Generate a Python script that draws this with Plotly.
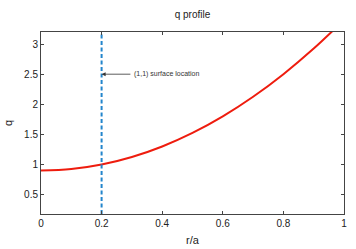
import plotly.graph_objects as go

r_vals = [0.0, 0.1, 0.2, 0.3, 0.4, 0.5, 0.6, 0.7, 0.8, 0.9, 1.0]
q_vals = [0.9, 0.925, 1.0, 1.125, 1.3, 1.525, 1.8, 2.125, 2.5, 2.925, 3.4]
surf_r = 0.2
surf_q_range = [0.18, 3.2]
x_ticks = [0, 0.2, 0.4, 0.6, 0.8, 1]
y_ticks = [0.5, 1, 1.5, 2, 2.5, 3]
title = "q profile"
xlabel = "r/a"
ylabel = "q"
annot_text = "(1,1) surface location"
annot_y = 2.5

fig = go.Figure()
fig.add_trace(go.Scatter(x=r_vals, y=q_vals, mode="lines", line=dict(color="#ee1c0e", width=2, shape="spline"), showlegend=False))
fig.add_trace(go.Scatter(x=[surf_r, surf_r], y=surf_q_range, mode="lines", line=dict(color="#2385cc", width=2, dash="4px,2.5px"), showlegend=False))

fig.add_annotation(x=surf_r, y=annot_y, ax=0.3, ay=annot_y, axref="x", ayref="y", xref="x", yref="y",
                   text="", showarrow=True, arrowhead=2, arrowsize=1, arrowwidth=0.8, arrowcolor="#333")
fig.add_annotation(x=0.3, y=annot_y, xref="x", yref="y", text=annot_text, showarrow=False, xanchor="left",
                   font=dict(size=7, color="#333", family="Liberation Sans"))
fig.add_annotation(x=0.5, y=-0.143, xref="paper", yref="paper", text=xlabel, showarrow=False,
                   xanchor="center", yanchor="middle", font=dict(size=11, color="#222"))
fig.add_annotation(x=-0.109, y=0.5, xref="paper", yref="paper", text=ylabel, showarrow=False,
                   textangle=-90, xanchor="center", yanchor="middle", font=dict(size=11, color="#222"))

axis_common = dict(showgrid=False, zeroline=False, showline=True, linecolor="#444", linewidth=1, mirror="ticks",
                   ticks="inside", ticklen=3, tickcolor="#444", tickfont=dict(size=10, color="#222"), automargin=False)
fig.update_xaxes(range=[0, 1], tickvals=x_ticks, ticktext=["0", "0.2", "0.4", "0.6", "0.8", "1"], **axis_common)
fig.update_yaxes(range=surf_q_range, tickvals=y_ticks, ticktext=["0.5", "1", "1.5", "2", "2.5", "3"], **axis_common)
fig.update_layout(width=356, height=249, margin=dict(l=41, r=12, t=32, b=35, autoexpand=False),
                  paper_bgcolor="white", plot_bgcolor="white",
                  font=dict(family="Liberation Sans", color="#222"),
                  title=dict(text=title, x=0.5, xref="paper", y=1 - 14/249, yref="container", yanchor="middle",
                             font=dict(size=10, color="#222")))
fig.write_html("out.html", config={"displayModeBar": False},
               post_script="document.body.style.margin='0';document.body.style.overflow='hidden';")
